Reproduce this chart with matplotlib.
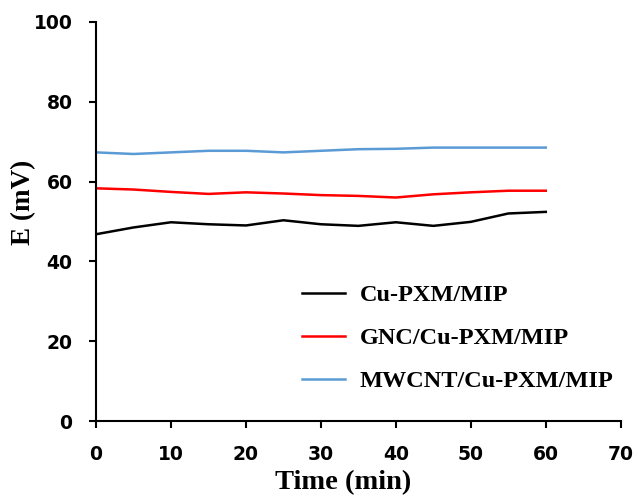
import matplotlib
matplotlib.use("Agg")
import matplotlib.pyplot as plt

time_min = [0, 5, 10, 15, 20, 25, 30, 35, 40, 45, 50, 55, 60]
cu_pxm = [46.8, 48.5, 49.8, 49.3, 49.0, 50.3, 49.3, 48.9, 49.8, 48.9, 49.9, 52.0, 52.4]
gnc_cu_pxm = [58.3, 58.0, 57.4, 56.9, 57.3, 57.0, 56.6, 56.4, 56.0, 56.8, 57.3, 57.7, 57.7]
mwcnt_cu_pxm = [67.3, 66.9, 67.3, 67.7, 67.7, 67.3, 67.7, 68.1, 68.2, 68.5, 68.5, 68.5, 68.5]

labels = ["Cu-PXM/MIP", "GNC/Cu-PXM/MIP", "MWCNT/Cu-PXM/MIP"]
colors = ["#000000", "#ff0000", "#5b9bd5"]

fig = plt.figure(figsize=(6.36, 4.96), dpi=100)
ax = fig.add_axes([0.151, 0.151, 0.825, 0.805])

for y, lab, c in zip([cu_pxm, gnc_cu_pxm, mwcnt_cu_pxm], labels, colors):
    ax.plot(time_min, y, color=c, lw=1.8, label=lab)

ax.set_xlim(0, 70)
ax.set_ylim(0, 100)
ax.set_xticks(range(0, 71, 10))
ax.set_yticks(range(0, 101, 20))

for s in ["top", "right"]:
    ax.spines[s].set_visible(False)
for s in ["left", "bottom"]:
    ax.spines[s].set_linewidth(1.5)

ax.tick_params(direction="out", length=5, width=1.5, labelsize=13.5, pad=12)
for t in ax.get_xticklabels() + ax.get_yticklabels():
    t.set_fontweight("bold")
    t.set_family("DejaVu Sans")

ax.set_xlabel("Time (min)", fontsize=20.5, fontweight="bold", family="Liberation Serif")
ax.set_ylabel("E (mV)", fontsize=19.5, fontweight="bold", family="Liberation Serif")
ax.xaxis.set_label_coords(0.47, -0.122)
ax.yaxis.set_label_coords(-0.114, 0.549)

ax.legend(loc="upper left", bbox_to_anchor=(0.392, 0.343), frameon=False,
          borderpad=0, borderaxespad=0, handlelength=1.8, handletextpad=0.58,
          labelspacing=0.87, prop={"family": "Liberation Serif", "weight": "bold", "size": 17.5})

fig.savefig("out.png", dpi=100)
